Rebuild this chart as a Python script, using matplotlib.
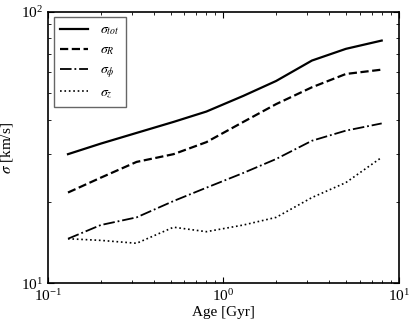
import matplotlib
matplotlib.use("Agg")
from matplotlib import pyplot as plt
from matplotlib.ticker import NullFormatter

plt.rcParams['font.family'] = 'serif'
plt.rcParams['font.serif'] = ['Liberation Serif', 'DejaVu Serif']
plt.rcParams['mathtext.fontset'] = 'stix'

# ages in Gyr
age = [0.13, 0.2, 0.32, 0.52, 0.8, 1.3, 2.0, 3.2, 5.0, 8.0]
# velocity dispersions in km/s
sig_tot = [29.9, 32.7, 35.8, 39.3, 42.9, 49.0, 55.6, 66.1, 73.0, 78.3]
sig_R = [21.6, 24.5, 28.0, 29.9, 33.1, 39.3, 45.7, 52.7, 59.0, 61.2]
sig_phi = [14.6, 16.4, 17.5, 20.1, 22.5, 25.5, 28.7, 33.5, 36.5, 38.8]
sig_z = [14.6, 14.4, 14.05, 16.1, 15.5, 16.4, 17.5, 20.7, 23.5, 29.1]


def main():
    fig = plt.figure(figsize=(4.15, 3.25), dpi=100)
    ax = fig.add_axes([0.1157, 0.128, 0.845, 0.836])

    ax.plot(age, sig_tot, '-', color='black', lw=1.6, label=r'$\sigma_{tot}$')
    ax.plot(age, sig_R, '--', color='black', lw=1.6, label=r'$\sigma_R$')
    ax.plot(age, sig_phi, '-.', color='black', lw=1.3, label=r'$\sigma_\phi$')
    ax.plot(age, sig_z, ':', color='black', lw=1.2, label=r'$\sigma_z$')

    ax.set_xscale('log')
    ax.set_yscale('log')
    ax.set_xlim(0.1, 10)
    ax.set_ylim(10, 100)
    ax.yaxis.set_minor_formatter(NullFormatter())
    ax.xaxis.set_minor_formatter(NullFormatter())

    ax.tick_params(which='both', direction='in', top=True, right=True, labelsize=11)
    ax.tick_params(which='major', length=4)
    ax.tick_params(which='minor', length=2)
    for s in ax.spines.values():
        s.set_linewidth(1.2)

    ax.set_xlabel('Age [Gyr]', fontsize=11, labelpad=1)
    ax.set_ylabel(r'$\sigma$ [km/s]', fontsize=11)

    leg = ax.legend(loc='upper left', fontsize=10, fancybox=False, framealpha=1,
                    handlelength=2.0, handletextpad=0.9, borderpad=0.45,
                    labelspacing=0.45, borderaxespad=0.4)
    leg.get_frame().set_edgecolor('0.4')

    fig.savefig('out.png', dpi=100)


if __name__ == "__main__":
    main()
